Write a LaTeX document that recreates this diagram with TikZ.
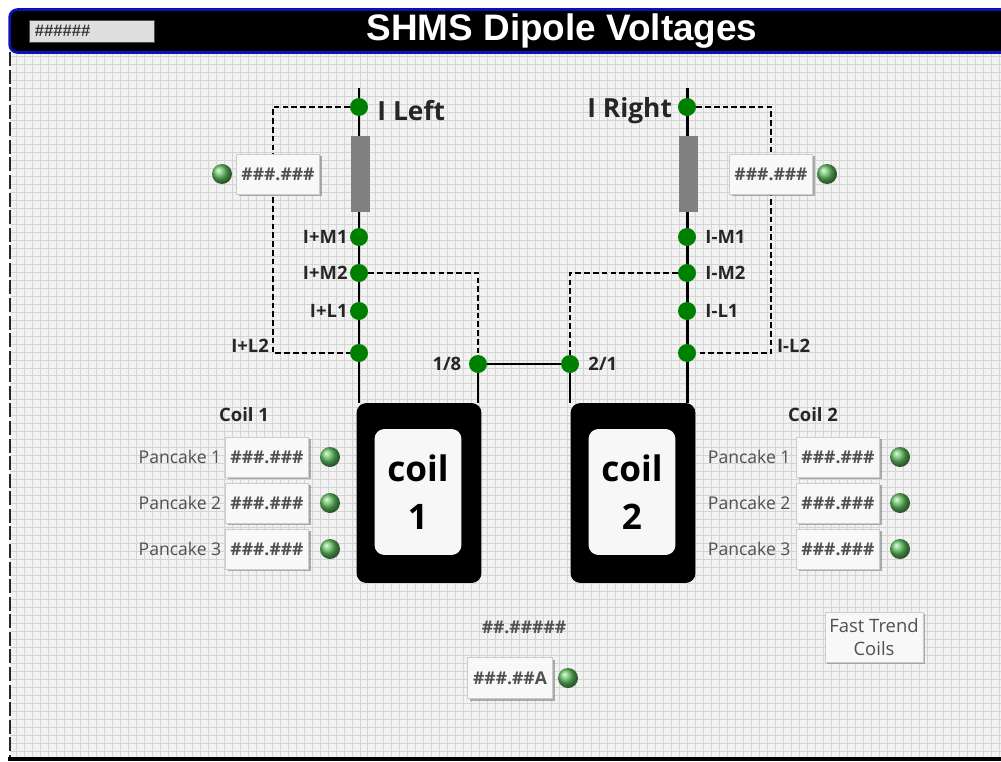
\documentclass[tikz,border=0pt]{standalone}
\usepackage{fontspec}
\setmainfont{Open Sans}
\newfontfamily\headfont{Liberation Sans}
\usetikzlibrary{positioning,shadows}
\pgfdeclarelayer{grid}
\pgfdeclarelayer{wires}
\pgfsetlayers{grid,wires,main}
\definecolor{panel}{RGB}{242,242,242}
\definecolor{gridline}{RGB}{212,212,212}
\definecolor{tapgreen}{RGB}{0,128,0}
\definecolor{ledgreen}{RGB}{95,190,95}
\definecolor{barblue}{RGB}{15,15,190}
\definecolor{resgray}{RGB}{128,128,128}
\definecolor{readtext}{RGB}{80,80,80}

\begin{document}
\begin{tikzpicture}[x=0.02cm,y=-0.02cm,
	tap/.style={circle,fill=tapgreen,inner sep=0pt,minimum size=0.36cm},
	led/.style={circle,ball color=ledgreen,inner sep=0pt,minimum size=0.4cm},
	readout/.style={draw=gray!40,fill=panel!50!white,minimum width=1.66cm,minimum height=0.8cm,inner sep=0pt,
		font=\bfseries\fontsize{10}{12}\selectfont,text=readtext,
		drop shadow={shadow xshift=1.2pt,shadow yshift=-1.2pt,fill=gray!90,opacity=0.7}},
	pointtag/.style={font=\bfseries\fontsize{10.5}{12}\selectfont,text=black!85,inner sep=1pt},
	sidetag/.style={font=\bfseries\fontsize{15}{16}\selectfont,text=black!85,inner sep=1pt,yshift=-2pt},
	padtag/.style={font=\fontsize{10}{12}\selectfont,text=readtext,inner sep=1pt},
	resistor/.style={fill=resgray,minimum width=0.38cm,minimum height=1.54cm,inner sep=0pt},
	coilbody/.style={fill=black,rounded corners=0.2cm,minimum width=2.5cm,minimum height=3.6cm},
	coilface/.style={fill=gray!6,rounded corners=0.2cm,minimum width=1.74cm,minimum height=2.52cm,
		align=center,font=\bfseries\fontsize{20}{27}\selectfont},
	wire/.style={line width=1.7pt},
	sense/.style={line width=1pt,dash pattern=on 3.2pt off 1.8pt}]

\useasboundingbox (0,0) rectangle (1001,761);

\begin{pgfonlayer}{grid}
	\fill[panel] (10,52) rectangle (1001,758);
	\draw[gridline,line width=0.5pt,step=0.16cm] (10,52) grid (1001,758);
	\draw[gray!30!black,line width=1pt,dash pattern=on 8pt off 2pt] (10,52) -- (10,758);
	\fill[black] (8,757) rectangle (1001,761);
\end{pgfonlayer}

% title bar
\node[fill=black,draw=barblue,line width=1.5pt,rounded corners=0.16cm,
	minimum width=20.1cm,minimum height=0.86cm] (bar) at (512,31) {};
\node[font=\headfont\bfseries\fontsize{21}{24}\selectfont,text=white] (title) at (562,31) {SHMS Dipole Voltages};
\node[fill=gray!25,draw=gray!60!black,minimum width=2.5cm,minimum height=0.44cm,inner sep=2pt,
	font=\headfont\itshape\bfseries\fontsize{9.5}{10}\selectfont,text=gray!45!black,
	text width=2.3cm,align=left] (stamp) at (92,31) {\#\#\#\#\#\#};

% left lead
\coordinate (ltop) at (359,88);
\coordinate (lsense) at (273,230);
\node[tap,label={[sidetag,label distance=4pt]right:I Left}] (ileft) at (359,107) {};
\node[resistor] (rleft) at (360,174) {};
\node[tap,label={[pointtag,label distance=0pt]left:I+M1}] (ipm1) at (359,237) {};
\node[tap,label={[pointtag,label distance=0pt]left:I+M2}] (ipm2) at (359,273) {};
\node[tap,label={[pointtag,label distance=0pt]left:I+L1}] (ipl1) at (359,311) {};
\node[tap] (ipl2) at (359,353) {};
\node[pointtag,anchor=east] (tagipl2) at (271,346) {I+L2};
\node[readout] (vleft) at (278,174) {\#\#\#.\#\#\#};
\node[led] (ledleft) at (222,174) {};

% right lead
\coordinate (rtop) at (687,88);
\coordinate (rsense) at (771,230);
\node[tap,label={[sidetag,label distance=2pt]left:I Right}] (iright) at (687,107) {};
\node[resistor] (rright) at (688,174) {};
\node[tap,label={[pointtag,label distance=4pt]right:I-M1}] (imm1) at (687,237) {};
\node[tap,label={[pointtag,label distance=4pt]right:I-M2}] (imm2) at (687,273) {};
\node[tap,label={[pointtag,label distance=4pt]right:I-L1}] (iml1) at (687,311) {};
\node[tap] (iml2) at (687,353) {};
\node[pointtag,anchor=west] (tagiml2) at (775,346) {I-L2};
\node[readout] (vright) at (771,174) {\#\#\#.\#\#\#};
\node[led] (ledright) at (827,174) {};

% splice between the coils
\node[tap,label={[pointtag,label distance=3pt]left:1/8}] (j18) at (478,364) {};
\node[tap,label={[pointtag,label distance=4pt]right:2/1}] (j21) at (570,364) {};

\node[coilbody] (coil1) at (419,493) {};
\node[coilface] (face1) at (418,492) {coil\\1};
\node[coilbody] (coil2) at (633,493) {};
\node[coilface] (face2) at (632,492) {coil\\2};

\begin{pgfonlayer}{wires}
	\draw[wire] (ltop) -- (coil1.north -| ltop);
	\draw[wire] (rtop) -- (coil2.north -| rtop);
	\draw[wire] (j18) -- (coil1.north -| j18);
	\draw[wire] (j21) -- (coil2.north -| j21);
	\draw[line width=1.2pt] (j18) -- (j21);
	\draw[sense] (ileft) -| (lsense) |- (ipl2);
	\draw[sense] (ipm2) -| (j18);
	\draw[sense] (iright) -| (rsense) |- (iml2);
	\draw[sense] (imm2) -| (j21);
\end{pgfonlayer}

% pancakes
\node[pointtag] (coilname1) at (244,415) {Coil 1};
\node[pointtag] (coilname2) at (813,415) {Coil 2};
\foreach \n/\y in {1/457,2/503,3/549}{
	\node[readout] (pa\n) at (267,\y) {\#\#\#.\#\#\#};
	\node[padtag,left=1pt of pa\n] (pla\n) {Pancake \n};
	\node[led] (lea\n) at (330,\y) {};
	\node[readout] (pb\n) at (838,\y) {\#\#\#.\#\#\#};
	\node[padtag,left=2pt of pb\n] (plb\n) {Pancake \n};
	\node[led] (leb\n) at (900,\y) {};
}

% current
\node[font=\bfseries\fontsize{10}{12}\selectfont,text=readtext] (iset) at (524,627) {\#\#.\#\#\#\#\#};
\node[readout,minimum width=1.7cm,minimum height=0.82cm] (imeas) at (510,678) {\#\#\#.\#\#A};
\node[led] (ledmeas) at (568,678) {};
\node[readout,font=\fontsize{10.5}{13}\selectfont,align=center,minimum width=1.96cm,minimum height=1.0cm]
	(trend) at (874,637) {Fast Trend\\Coils};
\end{tikzpicture}
\end{document}
